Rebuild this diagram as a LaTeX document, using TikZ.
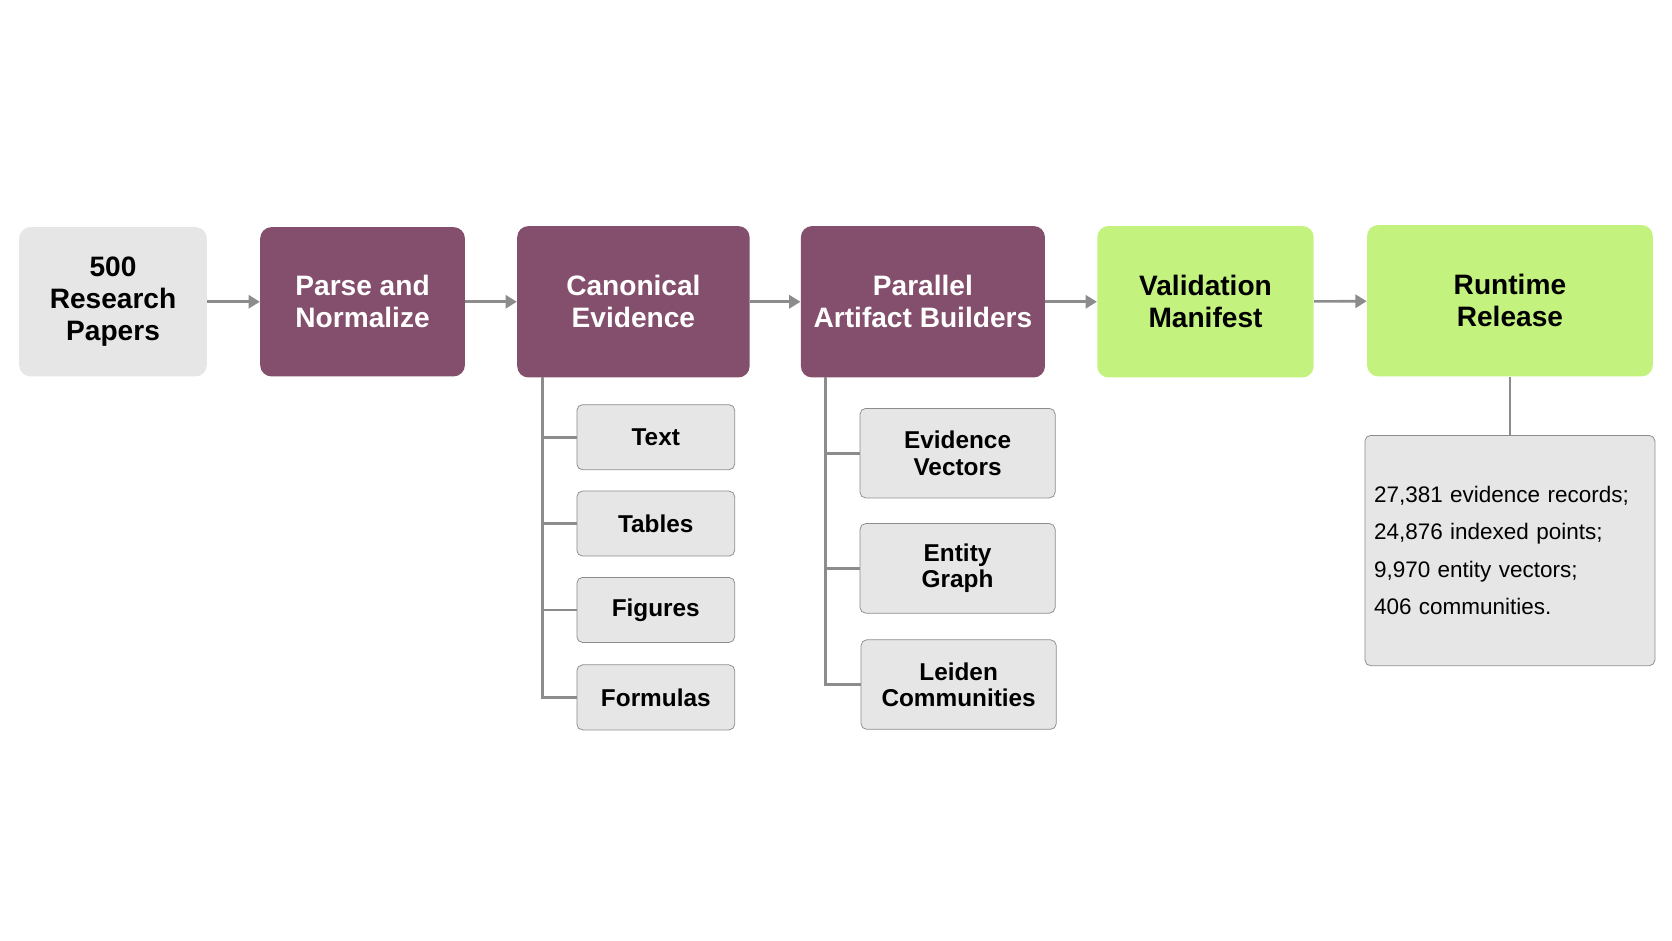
\documentclass[tikz,border=0pt]{standalone}
\usepackage{fontspec}
\setmainfont{Liberation Sans}
\usetikzlibrary{arrows.meta,positioning,calc}
\definecolor{plum}{HTML}{834F6C}
\definecolor{lime}{HTML}{C4F27E}
\definecolor{paper}{HTML}{E6E6E6}
\definecolor{linegray}{HTML}{8C8C8C}
\begin{document}
\begin{tikzpicture}[
    x=0.02cm, y=-0.02cm,
    stage/.style={rounded corners=6pt, align=center, font=\fontsize{15}{17}\selectfont\bfseries, inner sep=2pt},
    source/.style={stage, fill=paper, text=black},
    proc/.style={stage, fill=plum, text=white},
    result/.style={stage, fill=lime, text=black},
    part/.style={rounded corners=3pt, draw=linegray, fill=paper, align=center, font=\fontsize{13}{14}\selectfont\bfseries, minimum width=2.96cm},
    arrow/.style={-{Triangle[length=6pt,width=7pt]}, linegray, line width=1.4pt},
    tree/.style={linegray, line width=1.4pt}
]
    \useasboundingbox (0,0) rectangle (1568,882);
    % main stages
    \node[source, minimum width=3.52cm, minimum height=2.8cm] (papers) at (106,283) {500\\Research\\Papers};
    \node[proc, minimum width=3.84cm, minimum height=2.8cm] (parse) at (340,283) {Parse and\\Normalize};
    \node[proc, minimum width=4.36cm, minimum height=2.84cm] (canon) at (594,283) {Canonical\\Evidence};
    \node[proc, minimum width=4.58cm, minimum height=2.84cm] (build) at (865.5,283) {Parallel\\Artifact Builders};
    \node[result, minimum width=4.06cm, minimum height=2.84cm] (valid) at (1130.5,283) {Validation\\Manifest};
    \node[result, minimum width=5.36cm, minimum height=2.84cm] (release) at (1416,282) {Runtime\\Release};

    \draw[arrow] (papers) -- (parse);
    \draw[arrow] (parse) -- (canon);
    \draw[arrow] (canon) -- (build);
    \draw[arrow] (build) -- (valid);
    \draw[arrow] (valid) -- (release);

    % evidence parts
    \node[part, minimum height=1.22cm] (text) at (615,410) {Text};
    \node[part, minimum height=1.22cm] (tables) at (615,491) {Tables};
    \node[part, minimum height=1.22cm] (figures) at (615,572) {Figures};
    \node[part, minimum height=1.22cm] (formulas) at (615,654) {Formulas};
    \coordinate (ctop) at (509,354);
    \draw[tree] (ctop) |- (formulas.west);
    \foreach \n in {text,tables,figures}
        \draw[tree] (ctop |- \n.west) -- (\n.west);

    % artifacts
    \node[part, minimum width=3.66cm, minimum height=1.68cm] (vectors) at (898,425) {Evidence\\Vectors};
    \node[part, minimum width=3.66cm, minimum height=1.68cm] (graph) at (898,533) {Entity\\Graph};
    \node[part, minimum width=3.66cm, minimum height=1.68cm] (leiden) at (899,642) {Leiden\\Communities};
    \coordinate (btop) at (774,354);
    \draw[tree] (btop) |- (leiden.west);
    \foreach \n in {vectors,graph}
        \draw[tree] (btop |- \n.west) -- (\n.west);

    % release stats
    \node[part, minimum width=5.44cm, minimum height=4.32cm, anchor=north, align=left, font=\fontsize{12}{14}\selectfont, text width=5.1cm] (stats) at (1416,408)
        {27,381 evidence records;\\[6pt]24,876 indexed points;\\[6pt]9,970 entity vectors;\\[6pt]406 communities.};
    \draw[tree] (release) -- (stats);
\end{tikzpicture}
\end{document}
